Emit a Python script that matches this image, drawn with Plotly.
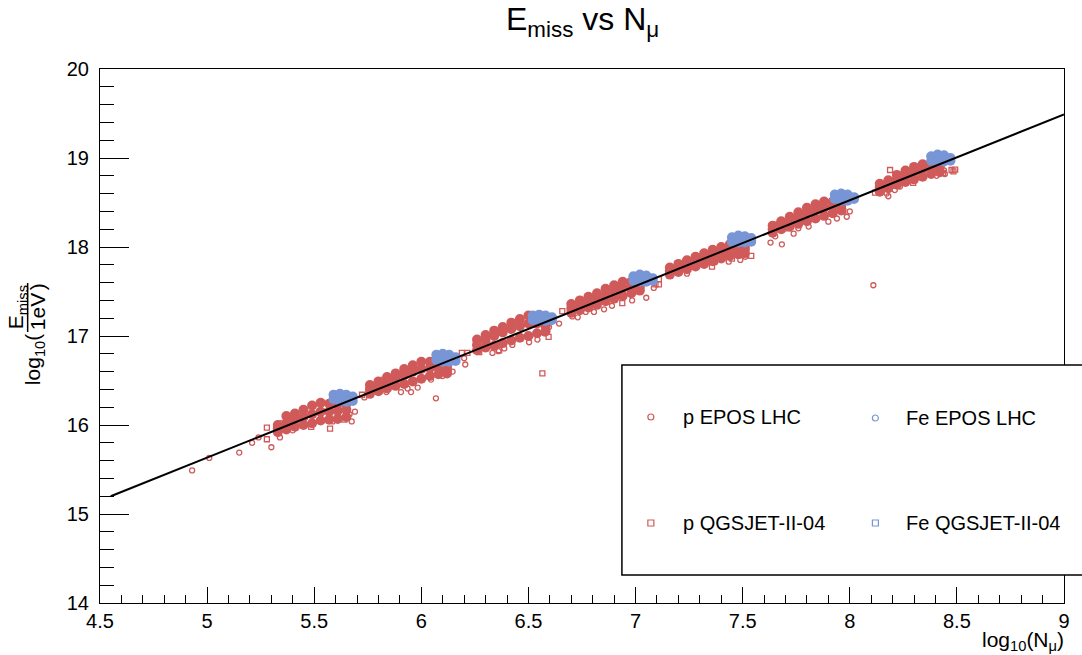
import plotly.graph_objects as go

# ---------------- data ----------------
# dense proton cores: x positions and three rows of y values per energy bin
p_core_x = [
    [5.33, 5.37, 5.41, 5.45, 5.49, 5.53, 5.57, 5.61, 5.65],
    [5.76, 5.80, 5.84, 5.88, 5.92, 5.96, 6.00, 6.04, 6.08, 6.12],
    [6.26, 6.30, 6.34, 6.38, 6.42, 6.46, 6.50, 6.54, 6.58],
    [6.70, 6.74, 6.78, 6.82, 6.86, 6.90, 6.94, 6.98, 7.02],
    [7.16, 7.20, 7.24, 7.28, 7.32, 7.36, 7.40, 7.44, 7.48, 7.51],
    [7.64, 7.68, 7.72, 7.76, 7.80, 7.84, 7.88, 7.92, 7.96],
    [8.14, 8.18, 8.22, 8.26, 8.30, 8.34, 8.38, 8.42],
]
p_core_top = [
    [16.00, 16.10, 16.13, 16.17, 16.22, 16.25, 16.24, 16.24, 16.24],
    [16.45, 16.49, 16.54, 16.58, 16.63, 16.67, 16.71, 16.71, 16.70, 16.66],
    [16.96, 17.01, 17.06, 17.10, 17.15, 17.19, 17.23, 17.22, 17.18],
    [17.36, 17.40, 17.44, 17.48, 17.53, 17.57, 17.61, 17.61, 17.59],
    [17.77, 17.81, 17.85, 17.89, 17.93, 17.97, 18.00, 18.03, 18.02, 18.00],
    [18.24, 18.29, 18.34, 18.39, 18.44, 18.48, 18.51, 18.51, 18.49],
    [18.71, 18.75, 18.81, 18.86, 18.90, 18.93, 18.94, 18.92],
]
p_core_mid = [
    [15.96, 16.02, 16.06, 16.09, 16.12, 16.15, 16.15, 16.16, 16.17],
    [16.40, 16.44, 16.48, 16.52, 16.56, 16.60, 16.63, 16.64, 16.64, 16.62],
    [16.90, 16.95, 17.00, 17.04, 17.08, 17.11, 17.14, 17.14, 17.11],
    [17.31, 17.35, 17.38, 17.42, 17.46, 17.50, 17.54, 17.55, 17.55],
    [17.73, 17.77, 17.80, 17.84, 17.87, 17.91, 17.94, 17.97, 17.98, 17.97],
    [18.20, 18.25, 18.29, 18.33, 18.37, 18.41, 18.44, 18.45, 18.45],
    [18.67, 18.71, 18.76, 18.80, 18.84, 18.87, 18.89, 18.89],
]
p_core_bot = [
    [15.92, 15.95, 15.98, 16.00, 16.02, 16.05, 16.06, 16.07, 16.09],
    [16.35, 16.38, 16.41, 16.44, 16.46, 16.49, 16.52, 16.55, 16.57, 16.58],
    [16.84, 16.87, 16.89, 16.92, 16.95, 16.98, 17.00, 17.03, 17.05],
    [17.26, 17.29, 17.32, 17.35, 17.39, 17.42, 17.45, 17.48, 17.51],
    [17.69, 17.72, 17.75, 17.78, 17.81, 17.84, 17.87, 17.90, 17.92, 17.93],
    [18.16, 18.20, 18.23, 18.26, 18.29, 18.32, 18.35, 18.38, 18.41],
    [18.62, 18.66, 18.70, 18.73, 18.76, 18.79, 18.82, 18.84],
]

# iron clusters: x positions, upper row (EPOS LHC) and lower row (QGSJET-II-04)
fe_x = [
    [5.59, 5.62, 5.65, 5.68],
    [6.07, 6.10, 6.13, 6.16],
    [6.52, 6.55, 6.58, 6.61],
    [6.99, 7.02, 7.05, 7.08],
    [7.45, 7.48, 7.51, 7.54],
    [7.93, 7.96, 7.99, 8.02],
    [8.38, 8.41, 8.44, 8.47],
]
fe_epos_y = [
    [16.34, 16.35, 16.34, 16.32],
    [16.79, 16.80, 16.79, 16.76],
    [17.23, 17.24, 17.23, 17.21],
    [17.67, 17.69, 17.68, 17.65],
    [18.11, 18.13, 18.12, 18.10],
    [18.59, 18.60, 18.59, 18.56],
    [19.02, 19.04, 19.03, 19.00],
]
fe_qgs_y = [
    [16.29, 16.27, 16.26, 16.27],
    [16.73, 16.71, 16.71, 16.72],
    [17.18, 17.17, 17.17, 17.18],
    [17.62, 17.61, 17.61, 17.62],
    [18.06, 18.05, 18.05, 18.06],
    [18.54, 18.52, 18.52, 18.54],
    [18.97, 18.96, 18.96, 18.97],
]

# sparse proton showers (open markers)
p_epos_x = [4.93, 5.01, 5.15, 5.21, 5.30, 5.24, 5.34, 5.40, 5.675, 5.69, 5.665, 5.61, 5.587, 5.346, 5.734,
            5.837, 5.905, 5.936, 5.952, 5.983, 6.068, 6.045, 6.099, 6.146, 6.20, 6.205,
            6.332, 6.36, 6.387, 6.425, 6.503, 6.542, 6.573, 6.596, 6.643,
            6.705, 6.73, 6.767, 6.806, 6.853, 6.89, 6.984, 7.05, 7.085, 7.085,
            7.24, 7.372, 7.435, 7.489, 7.512, 7.48,
            7.63, 7.652, 7.683, 7.738, 7.76, 7.808, 7.90, 7.94, 7.986, 8.00,
            8.11,
            8.13, 8.172, 8.18, 8.21, 8.234, 8.405, 8.444, 8.44, 8.413]
p_epos_y = [15.49, 15.63, 15.69, 15.80, 15.75, 15.86, 15.86, 15.94, 16.04, 16.15, 16.12, 16.05, 16.04, 16.02, 16.31,
            16.37, 16.37, 16.41, 16.37, 16.42, 16.30, 16.51, 16.55, 16.60, 16.75, 16.68,
            16.81, 16.83, 16.86, 16.90, 16.93, 16.96, 17.03, 17.10, 17.14,
            17.22, 17.21, 17.27, 17.27, 17.30, 17.34, 17.40, 17.43, 17.54, 17.64,
            17.70, 17.83, 17.835, 17.855, 17.89, 17.90,
            18.05, 18.12, 18.03, 18.15, 18.21, 18.23, 18.285, 18.32, 18.34, 18.40,
            17.57,
            18.64, 18.60, 18.57, 18.64, 18.68, 18.80, 18.82, 18.86, 18.90]
p_qgs_x = [5.279, 5.279, 5.574, 5.486, 5.723, 5.641,
           5.789, 5.828, 6.189, 6.215, 6.565,
           6.27, 6.30, 6.363, 6.594,
           6.938, 7.093, 7.109, 7.109, 6.658, 6.697,
           7.17, 7.357, 7.45, 7.54,
           7.649, 7.675, 7.714, 7.97,
           8.188, 8.118, 8.16, 8.296, 8.484, 8.492, 8.475, 8.436]
p_qgs_y = [15.97, 15.84, 15.96, 15.98, 16.34, 16.06,
           16.45, 16.51, 16.81, 16.81, 16.58,
           16.82, 16.86, 16.84, 16.99,
           17.37, 17.58, 17.64, 17.58, 17.28, 17.32,
           17.72, 17.78, 17.87, 17.90,
           18.25, 18.28, 18.21, 18.40,
           18.865, 18.61, 18.67, 18.72, 18.85, 18.87, 18.865, 18.83]

# straight-line fit drawn across the frame
fit_x = [4.55, 9.0]
fit_y = [15.20, 19.49]

x_ticks = [4.5, 5, 5.5, 6, 6.5, 7, 7.5, 8, 8.5, 9]
x_tick_labels = ["4.5", "5", "5.5", "6", "6.5", "7", "7.5", "8", "8.5", "9"]
y_ticks = [14, 15, 16, 17, 18, 19, 20]
y_tick_labels = ["14", "15", "16", "17", "18", "19", "20"]

legend_labels = ["p EPOS LHC", "Fe EPOS LHC", "p QGSJET-II-04", "Fe QGSJET-II-04"]

# ---------------- figure ----------------
RED = "#d05a5a"
BLUE = "#7895d5"
FONT = "Liberation Sans, Arial, Helvetica, sans-serif"

W, H = 1082, 655
ML, MR, MT, MB = 100, 16, 69, 52
PW, PH = W - ML - MR, H - MT - MB


def px(xp):
    return (xp - ML) / PW


def py(yp):
    return (H - MB - yp) / PH


def flat(xs, ys):
    ox, oy = [], []
    for a, b in zip(xs, ys):
        ox += a
        oy += b
    return ox, oy


fig = go.Figure()

cx_t, cy_t = flat(p_core_x, p_core_top)
cx_m, cy_m = flat(p_core_x, p_core_mid)
cx_b, cy_b = flat(p_core_x, p_core_bot)

fig.add_trace(go.Scatter(x=cx_t + cx_b, y=cy_t + cy_b, mode="markers", showlegend=False,
                         marker=dict(symbol="circle", size=10, color=RED, line=dict(width=0))))
fig.add_trace(go.Scatter(x=cx_m, y=cy_m, mode="markers", showlegend=False,
                         marker=dict(symbol="circle", size=10, color=RED, line=dict(width=0))))
fig.add_trace(go.Scatter(x=p_epos_x, y=p_epos_y, mode="markers", showlegend=False,
                         marker=dict(symbol="circle-open", size=5, color=RED, line=dict(width=1.3, color=RED))))
fig.add_trace(go.Scatter(x=p_qgs_x, y=p_qgs_y, mode="markers", showlegend=False,
                         marker=dict(symbol="square-open", size=5, color=RED, line=dict(width=1.3, color=RED))))

fx_e, fy_e = flat(fe_x, fe_epos_y)
fx_q, fy_q = flat(fe_x, fe_qgs_y)
fig.add_trace(go.Scatter(x=fx_e, y=fy_e, mode="markers", showlegend=False,
                         marker=dict(symbol="circle", size=10, color=BLUE, line=dict(width=0))))
fig.add_trace(go.Scatter(x=fx_q, y=fy_q, mode="markers", showlegend=False,
                         marker=dict(symbol="circle", size=10, color=BLUE, line=dict(width=0))))

fig.add_trace(go.Scatter(x=fit_x, y=fit_y, mode="lines", showlegend=False,
                         line=dict(color="black", width=2)))

axis_common = dict(showgrid=False, zeroline=False, showline=True, linecolor="black", linewidth=1,
                   mirror=True, ticks="inside", tickcolor="black", tickwidth=1,
                   tickfont=dict(family=FONT, size=20, color="black"))

fig.update_xaxes(range=[4.5, 9], tickvals=x_ticks, ticktext=x_tick_labels, ticklen=16,
                 ticklabelstandoff=0,
                 minor=dict(dtick=0.1, ticklen=8, ticks="inside", tickcolor="black", tickwidth=1),
                 **axis_common)
fig.update_yaxes(range=[14, 20], tickvals=y_ticks, ticktext=y_tick_labels, ticklen=29,
                 ticklabelstandoff=6,
                 minor=dict(dtick=0.2, ticklen=14, ticks="inside", tickcolor="black", tickwidth=1),
                 **axis_common)

shapes = []
annotations = []

# legend box (extends past right edge like the reference)
shapes.append(dict(type="rect", xref="paper", yref="paper", x0=px(623), x1=px(1095), y0=py(575), y1=py(365),
                   line=dict(color="black", width=1.5), fillcolor="white", layer="above"))
leg_pos = [(652, 417, 682), (877, 418, 906), (652, 523, 682), (877, 523, 906)]
leg_col = [RED, BLUE, RED, BLUE]
leg_shape = ["circle", "circle", "rect", "rect"]
for (mx, my, tx), lab, col, shp in zip(leg_pos, legend_labels, leg_col, leg_shape):
    shapes.append(dict(type=shp, xref="paper", yref="paper", xsizemode="pixel", ysizemode="pixel",
                       xanchor=px(mx), yanchor=py(my), x0=-3, x1=3, y0=-3, y1=3,
                       line=dict(color=col, width=1.2), fillcolor="white", layer="above"))
    annotations.append(dict(text=lab, xref="paper", yref="paper", x=px(tx), y=py(my), xanchor="left",
                            yanchor="middle", showarrow=False, font=dict(family=FONT, size=20, color="black")))

# title
annotations.append(dict(text="E<sub>miss</sub> vs N<sub>μ</sub>", xref="paper", yref="paper",
                        x=0.5, y=py(22), xanchor="center", yanchor="middle", showarrow=False,
                        font=dict(family=FONT, size=32, color="black")))
# x axis title
annotations.append(dict(text="log<sub>10</sub>(N<sub>μ</sub>)", xref="paper", yref="paper",
                        x=px(1068), y=py(641), xanchor="right", yanchor="middle", showarrow=False,
                        font=dict(family=FONT, size=21, color="black")))
# y axis title pieces
annotations.append(dict(text="log<sub>10</sub>(", xref="paper", yref="paper", x=px(34), y=py(360),
                        xanchor="center", yanchor="middle", textangle=-90, showarrow=False,
                        font=dict(family=FONT, size=21, color="black")))
annotations.append(dict(text="E<sub>miss</sub>", xref="paper", yref="paper", x=px(17), y=py(307),
                        xanchor="center", yanchor="middle", textangle=-90, showarrow=False,
                        font=dict(family=FONT, size=21, color="black")))
annotations.append(dict(text="1eV", xref="paper", yref="paper", x=px(37), y=py(312),
                        xanchor="center", yanchor="middle", textangle=-90, showarrow=False,
                        font=dict(family=FONT, size=21, color="black")))
annotations.append(dict(text=")", xref="paper", yref="paper", x=px(37), y=py(287),
                        xanchor="center", yanchor="middle", textangle=-90, showarrow=False,
                        font=dict(family=FONT, size=21, color="black")))
shapes.append(dict(type="line", xref="paper", yref="paper", x0=px(27.5), x1=px(27.5), y0=py(332), y1=py(283),
                   line=dict(color="black", width=1.5)))

fig.update_layout(width=W, height=H, margin=dict(l=ML, r=MR, t=MT, b=MB),
                  paper_bgcolor="white", plot_bgcolor="white", showlegend=False,
                  shapes=shapes, annotations=annotations,
                  font=dict(family=FONT, color="black"))

fig.write_html("out.html")
